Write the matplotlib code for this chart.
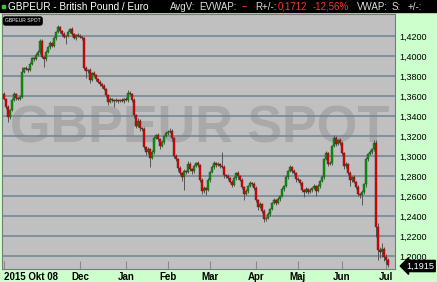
import numpy as np
import pandas as pd
import matplotlib
matplotlib.use("Agg")
import matplotlib.pyplot as plt
from matplotlib.patches import Rectangle

plt.rcParams['font.family'] = ['Liberation Sans', 'DejaVu Sans']

# daily GBPEUR closes, 2015-10-08 .. 2016-07-04 (weekdays)
dates = pd.bdate_range('2015-10-08', '2016-07-04')
first_open = 1.362
closes = [
    # Oct
    1.357, 1.349, 1.339, 1.346, 1.356, 1.362, 1.358, 1.357, 1.359, 1.384, 1.388, 1.387, 1.386, 1.392, 1.398, 1.397, 1.401,
    # Nov
    1.404, 1.415, 1.399, 1.397, 1.404, 1.409, 1.413, 1.410, 1.418, 1.424, 1.429, 1.425, 1.422, 1.419, 1.420, 1.424, 1.427,
    1.422, 1.418, 1.421, 1.420,
    # Dec
    1.419, 1.418, 1.388, 1.385, 1.386, 1.376, 1.383, 1.381, 1.377, 1.374, 1.372, 1.370, 1.367, 1.361, 1.354, 1.357, 1.356,
    1.355, 1.356, 1.355, 1.356, 1.355, 1.357,
    # Jan
    1.356, 1.363, 1.362, 1.356, 1.341, 1.330, 1.335, 1.328, 1.327, 1.309, 1.304, 1.307, 1.298, 1.304, 1.318, 1.321, 1.317,
    1.310, 1.314, 1.320, 1.323,
    # Feb
    1.324, 1.325, 1.318, 1.300, 1.297, 1.288, 1.283, 1.279, 1.285, 1.284, 1.292, 1.287, 1.285, 1.290, 1.293, 1.291, 1.276,
    1.265, 1.268, 1.266, 1.276,
    # Mar
    1.284, 1.289, 1.293, 1.291, 1.292, 1.290, 1.289, 1.281, 1.280, 1.278, 1.274, 1.271, 1.278, 1.283, 1.280, 1.276, 1.269,
    1.262, 1.265, 1.270, 1.273, 1.272, 1.268,
    # Apr
    1.256, 1.249, 1.252, 1.245, 1.237, 1.238, 1.242, 1.247, 1.253, 1.256, 1.253, 1.257, 1.260, 1.267, 1.270, 1.279, 1.285,
    1.289, 1.285, 1.283, 1.277,
    # May
    1.276, 1.273, 1.266, 1.264, 1.267, 1.264, 1.266, 1.268, 1.270, 1.265, 1.270, 1.275, 1.279, 1.297, 1.303, 1.292, 1.293,
    1.310, 1.318, 1.312, 1.316, 1.313,
    # Jun
    1.303, 1.290, 1.292, 1.283, 1.276, 1.279, 1.274, 1.269, 1.262, 1.261, 1.264, 1.272, 1.297, 1.302, 1.304, 1.307, 1.313,
    1.229, 1.206, 1.204, 1.207, 1.199,
    # Jul
    1.196, 1.1915,
]
# wick length above / below the body, in 0.001
upper_wick = [
    2, 1, 2, 1, 2, 2, 1, 1, 2, 5, 1, 2, 1, 2, 1, 1, 2,
    2, 2, 2, 1, 2, 1, 2, 1, 2, 1, 2, 1, 1, 2, 1, 2, 1, 2, 1, 1, 2,
    2, 1, 1, 2, 1, 2, 1, 2, 1, 1, 2, 1, 2, 1, 1, 2, 1, 1, 2, 1, 1, 2, 1,
    2, 3, 2, 1, 2, 1, 3, 2, 1, 2, 1, 2, 1, 2, 2, 1, 2, 1, 2, 1, 2,
    2, 3, 2, 1, 2, 1, 2, 1, 2, 1, 3, 2, 1, 2, 1, 2, 1, 2, 2, 1, 2,
    1, 2, 2, 1, 2, 1, 14, 2, 1, 2, 1, 2, 2, 1, 2, 1, 2, 1, 2, 1, 2, 1, 2,
    2, 1, 2, 1, 2, 1, 2, 1, 1, 2, 1, 2, 1, 2, 1, 2, 1, 2, 1, 2, 1,
    2, 1, 2, 1, 2, 1, 2, 1, 2, 1, 2, 1, 2, 1, 2, 1, 2, 1, 3, 2, 1, 2,
    2, 1, 2, 1, 2, 1, 2, 1, 2, 1, 2, 1, 2, 1, 2, 1, 3, 3, 4, 3, 6, 2,
    3, 2,
]
lower_wick = [
    1, 2, 5, 2, 1, 1, 2, 1, 1, 1, 1, 1, 2, 1, 1, 2, 1,
    1, 2, 1, 8, 2, 1, 2, 1, 1, 2, 1, 2, 2, 1, 7, 1, 1, 2, 1, 2, 1,
    1, 2, 2, 7, 2, 3, 1, 2, 2, 1, 2, 2, 1, 2, 3, 1, 2, 6, 1, 2, 1, 1, 2,
    1, 2, 1, 2, 3, 2, 1, 3, 2, 2, 3, 2, 9, 1, 2, 1, 2, 3, 1, 2, 1,
    2, 1, 3, 2, 2, 3, 2, 4, 13, 2, 1, 2, 3, 2, 1, 2, 2, 3, 2, 5, 1,
    2, 1, 2, 2, 1, 2, 1, 3, 2, 2, 1, 2, 1, 2, 3, 1, 2, 6, 1, 2, 1, 2, 2,
    2, 3, 1, 2, 3, 2, 1, 2, 1, 1, 2, 1, 2, 1, 2, 1, 2, 1, 2, 2, 3,
    1, 2, 2, 5, 1, 2, 1, 2, 1, 5, 1, 2, 1, 2, 1, 2, 1, 2, 1, 2, 1, 2,
    2, 3, 2, 2, 6, 2, 1, 2, 2, 3, 10, 2, 3, 2, 1, 2, 2, 10, 10, 6, 5, 4,
    4, 3,
]
month_ticks = ['2015-12-01', '2016-01-01', '2016-02-01', '2016-03-01', '2016-04-01',
               '2016-05-02', '2016-06-01', '2016-07-01']
month_labels = ['Dec', 'Jan', 'Feb', 'Mar', 'Apr', 'Maj', 'Jun', 'Jul']
price_ticks = [1.20, 1.22, 1.24, 1.26, 1.28, 1.30, 1.32, 1.34, 1.36, 1.38, 1.40, 1.42]
last_price = 1.1915

W, H = 437, 282
BG = '#ccffcc'
fig = plt.figure(figsize=(W / 100, H / 100), dpi=100, facecolor=BG)
ax = fig.add_axes([2 / W, 13 / H, 393 / W, 255 / H])
ax.set_facecolor('#c0c0c0')

c = np.array(closes)
o = np.r_[first_open, c[:-1]]
x = np.arange(len(c))
hi = np.maximum(o, c) + np.array(upper_wick) / 1000
lo = np.minimum(o, c) - np.array(lower_wick) / 1000
up = c >= o

ax.text(98, 1.327, 'GBPEUR SPOT', ha='center', va='center', fontsize=37.5,
        fontweight='bold', color='#a9a9a9', zorder=1)
for p in price_ticks:
    ax.axhline(p, color='#6f8595', lw=1.1, zorder=2)

ax.vlines(x, lo, hi, color='#555555', lw=0.7, zorder=3)
ax.bar(x[up], (c - o)[up] + 0.0008, bottom=o[up] - 0.0004, width=0.95,
       color='#009a00', edgecolor='#2a4a2a', lw=0.3, zorder=4)
ax.bar(x[~up], (o - c)[~up] + 0.0008, bottom=c[~up] - 0.0004, width=0.95,
       color='#e60000', edgecolor='#5a1a1a', lw=0.3, zorder=4)

ax.set_xlim(-1, 195.5)
ax.set_ylim(1.187, 1.442)

pos = [dates.get_indexer([pd.Timestamp(d)])[0] for d in month_ticks]
ax.set_xticks([0] + pos)
ax.set_xticklabels(['2015 Okt 08'] + month_labels, fontsize=7, fontweight='bold')
ax.get_xticklabels()[0].set_horizontalalignment('left')
ax.tick_params(axis='x', direction='in', length=6, color='#8a8a8a', pad=2)

ax.set_yticks(price_ticks)
ax.set_yticklabels([f'{p:.4f}'.replace('.', ',') for p in price_ticks], fontsize=6.5)
ax.yaxis.tick_right()
ax.tick_params(axis='y', length=0, pad=3)

for s in ax.spines.values():
    s.set_color('#7a7a7a')
    s.set_linewidth(0.8)

# header bar
fig.patches.append(Rectangle((0, 1 - 12 / H), 1, 12 / H, transform=fig.transFigure,
                             color='black', zorder=0))
fig.patches.append(Rectangle((2 / W, 1 - 7.5 / H), 2.5 / W, 2.5 / H,
                             transform=fig.transFigure, color='#33cc33', zorder=1))
ty = 1 - 6.5 / H
fig.text(8 / W, ty, 'GBPEUR - British Pound / Euro', color='white', fontsize=7.2, va='center')
head = [(170, 'AvgV:', '#dddddd'), (199, 'EVWAP:', '#dddddd'), (242, '--', '#ff3333'),
        (255, 'R+/-:', '#dddddd'), (278, '0,1712', '#ff3333'), (313, '-12,56%', '#ff3333'),
        (357, 'VWAP:', '#dddddd'), (392, 'S:', '#dddddd'), (408, '+/-:', '#dddddd')]
for hx, t, col in head:
    fig.text(hx / W, ty, t, color=col, fontsize=7.0, va='center')

# small series tag
ax.annotate('GBPEUR SPOT', xy=(5 / W, 1 - 21 / H), xycoords='figure fraction',
            fontsize=3.6, color='white', va='center', ha='left',
            bbox=dict(boxstyle='round,pad=0.3,rounding_size=0.4', fc='black', ec='black'))

# last price tag
ax.annotate(f'{last_price:.4f}'.replace('.', ','), xy=(1.0, last_price - 0.0015),
            xycoords=('axes fraction', 'data'), xytext=(8, 0), textcoords='offset points',
            fontsize=6.6, color='white', va='center', ha='left', annotation_clip=False,
            bbox=dict(boxstyle='larrow,pad=0.12', fc='black', ec='black'))

fig.savefig('out.png', dpi=100, facecolor=BG)
